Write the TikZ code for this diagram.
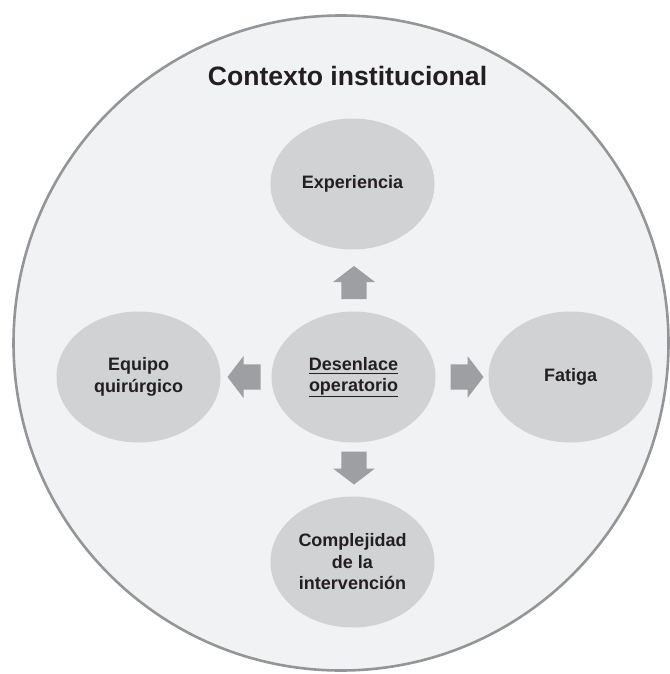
\documentclass[tikz,border=0pt]{standalone}
\usepackage{fontspec}
\setmainfont{Liberation Sans}
\usetikzlibrary{shapes.geometric}

\definecolor{ringfill}{HTML}{F1F2F4}
\definecolor{ringline}{HTML}{939598}
\definecolor{bubble}{HTML}{D1D2D4}
\definecolor{arrowgray}{HTML}{9D9FA2}
\definecolor{ink}{HTML}{231F20}

% underline with an explicit offset below the baseline
\newcommand\myul[2]{\setbox0\hbox{#2}\rlap{\rule[#1]{\wd0}{1pt}}\box0}

\tikzset{
  bubblenode/.style={ellipse, fill=bubble, inner sep=0pt,
    minimum width=164pt, minimum height=131pt, align=center,
    text=ink, font=\fontsize{18}{21.5}\selectfont\bfseries},
  blockarrow/.pic={
    \fill[arrowgray] (-16.5,-12.7) -- (0.5,-12.7) -- (0.5,-21) -- (16.5,0)
      -- (0.5,21) -- (0.5,12.7) -- (-16.5,12.7) -- cycle;}
}

\begin{document}
\begin{tikzpicture}[x=1pt,y=-1pt]
\useasboundingbox (0,0) rectangle (669,674);

% institutional context ring
\node[circle, fill=ringfill, draw=ringline, line width=2.6pt,
      minimum size=655pt, inner sep=0pt] (ring) at (341,343) {};
\node[anchor=base, text=ink, font=\fontsize{26.6}{30}\selectfont\bfseries]
  (title) at (347.5,86) {Contexto institucional};

% factors
\node[bubblenode] (outcome) at (353.5,377) {\myul{-4pt}{Desenlace}\\\myul{-5.5pt}{operatorio}};
\node[bubblenode] (exp) at (352.5,184) {Experiencia};
\node[bubblenode] (team) at (138.5,377) {Equipo\\quirúrgico};
\node[bubblenode] (fatigue) at (570.5,377) {Fatiga};
\node[bubblenode] (complex) at (352.5,562) {Complejidad\\de la\\intervención};

% block arrows from the outcome towards each factor
\coordinate (aup) at (354,282.5);
\coordinate (adown) at (354,468);
\coordinate (aleft) at (244,377);
\coordinate (aright) at (467,377);
\pic[rotate=90] at (aup) {blockarrow};
\pic[rotate=-90] at (adown) {blockarrow};
\pic[rotate=180] at (aleft) {blockarrow};
\pic at (aright) {blockarrow};
\end{tikzpicture}
\end{document}
